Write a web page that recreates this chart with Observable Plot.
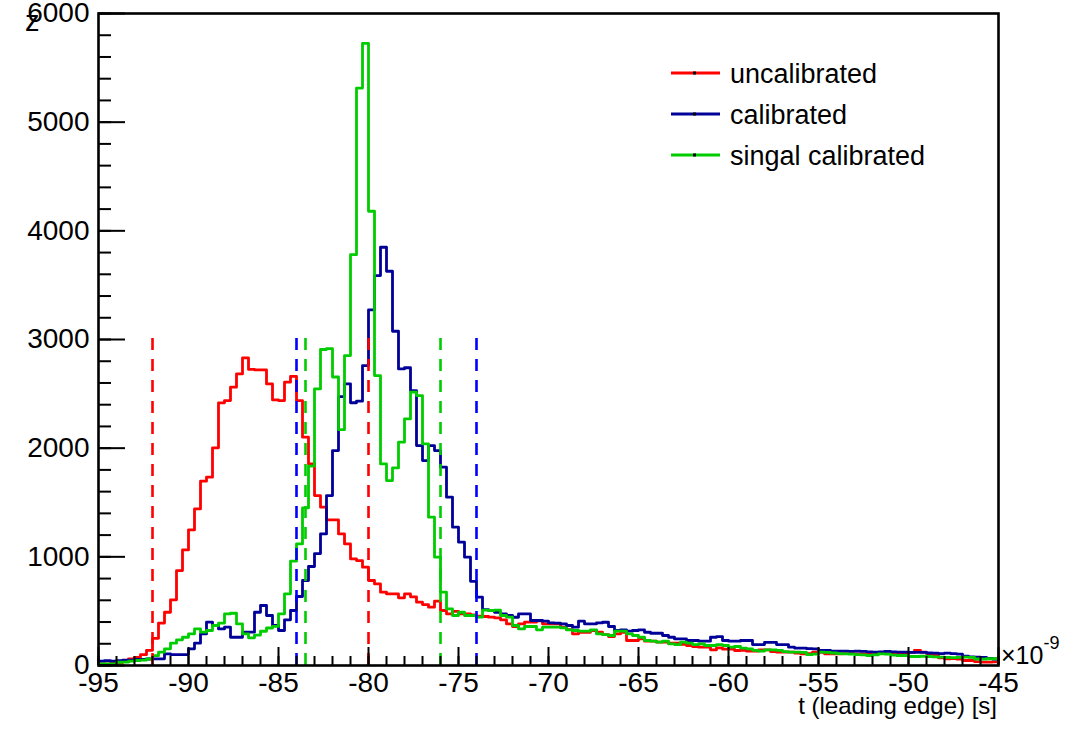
<!DOCTYPE html>
<html><head><meta charset="utf-8">
<script src="https://cdn.jsdelivr.net/npm/d3@7"></script>
<script src="https://cdn.jsdelivr.net/npm/@observablehq/plot@0.6"></script>
<style>body{margin:0;background:#fff;} svg{display:block}</style>
</head><body><div id="chart"></div>
<script>
// Histogram binning: 150 bins from -95 to -45 (x 1e-9 s)
const xMin = -95, xMax = -45, nBins = 150;

const uncalibrated = [
  15,15,20,25,35,60,75,100,140,250,
  390,490,604,874,1064,1248,1441,1696,1733,2003,
  2417,2438,2561,2683,2830,2725,2720,2720,2591,2444,
  2438,2607,2660,2438,2101,1855,1564,1457,1340,1340,
  1211,1119,981,966,905,782,751,675,659,659,
  623,659,632,583,561,537,592,506,475,499,
  475,475,465,455,451,445,438,420,383,359,
  383,399,399,410,383,383,383,353,330,291,
  306,306,322,306,285,267,291,306,230,230,
  245,224,224,215,215,205,205,195,184,175,
  169,169,144,163,150,150,138,140,132,132,
  144,144,128,123,123,123,115,107,110,123,
  120,107,107,107,110,110,107,107,105,115,
  120,118,115,107,105,120,138,123,110,101,
  70,61,63,60,46,46,35,31,31,33
];
const calibrated = [
  40,45,40,45,50,50,55,55,60,61,
  61,107,101,101,101,153,205,291,399,368,
  337,353,260,260,307,307,490,552,460,368,
  322,420,506,635,782,911,1030,1211,1564,1978,
  2475,2592,2418,2432,2760,3272,3588,3849,3628,3076,
  2729,2740,2530,2024,1886,2024,1978,1825,1549,1273,
  1135,997,775,629,515,506,490,475,460,444,
  475,475,414,414,408,392,390,383,368,353,
  408,383,383,392,398,359,322,328,316,322,
  328,306,297,297,276,260,245,245,230,230,
  224,224,260,266,230,224,224,230,230,193,
  193,212,212,193,193,169,160,160,155,153,
  140,138,132,132,132,130,132,130,125,123,
  125,130,125,123,123,120,120,120,115,113,
  110,113,110,105,85,80,77,75,65,60
];
const singalCalibrated = [
  15,15,15,30,31,40,46,50,60,90,
  123,153,205,236,260,291,337,307,322,368,
  390,475,481,383,291,255,280,315,345,360,
  475,660,960,1119,1450,1835,2545,2908,2916,2655,
  2170,2852,3781,5314,5725,4180,2668,1855,1702,1818,
  2055,2269,2515,2484,2039,1365,997,675,521,460,
  490,460,460,445,510,506,510,460,445,368,
  337,359,359,328,353,353,353,347,328,322,
  316,316,328,291,285,276,316,316,291,276,
  260,230,224,215,224,199,193,215,205,193,
  199,184,184,193,184,169,175,160,153,140,
  132,144,144,140,128,123,123,120,101,105,
  123,120,115,110,107,105,101,98,92,98,
  107,105,95,92,92,83,83,85,83,80,
  77,75,72,75,77,75,60,58,62,62
];

const seriesNames = ["uncalibrated", "calibrated", "singal calibrated"];
const seriesColors = ["#ff0000", "#000099", "#00cc00"];

// dashed vertical markers
const dashRed = [-92, -80];
const dashBlue = [-84, -74];
const dashGreen = [-83.5, -76];
const dashColors = ["#ff0000", "#0000ff", "#00cc00"];
const dashTop = 3080;

// axis ticks
const xMajor = [-95, -90, -85, -80, -75, -70, -65, -60, -55, -50, -45];
const xMinor = d3.range(-95, -44, 1);
const yMajor = [0, 1000, 2000, 3000, 4000, 5000, 6000];
const yMinor = d3.range(0, 6001, 200);

const xTitle = "t (leading edge) [s]";
const yTitle = "z";

const W = 1078, H = 729;
const mL = 98, mR = 80, mT = 13, mB = 64;
const plotW = W - mL - mR, plotH = H - mT - mB;
const FONT = "'Liberation Sans', Arial, Helvetica, sans-serif";

const binW = (xMax - xMin) / nBins;
function rows(vals) {
  const r = vals.map((v, i) => ({x: xMin + i * binW, y: v}));
  r.push({x: xMax, y: vals[vals.length - 1]});
  return r;
}
const seriesData = [uncalibrated, calibrated, singalCalibrated].map(rows);

const marks = [];
seriesData.forEach((d, i) => {
  marks.push(Plot.line(d, {x: "x", y: "y", curve: "step-after", stroke: seriesColors[i], strokeWidth: 2.8}));
});
[dashRed, dashBlue, dashGreen].forEach((arr, i) => {
  marks.push(Plot.ruleX(arr, {x: d => d, y1: 0, y2: dashTop, stroke: dashColors[i], strokeWidth: 2.6, strokeDasharray: "12,9"}));
});
marks.push(
  Plot.tickX(xMinor, {x: d => d, insetTop: plotH - 9, stroke: "black", strokeWidth: 2}),
  Plot.tickX(xMajor, {x: d => d, insetTop: plotH - 18, stroke: "black", strokeWidth: 2}),
  Plot.tickY(yMinor, {y: d => d, insetRight: plotW - 13, stroke: "black", strokeWidth: 2}),
  Plot.tickY(yMajor, {y: d => d, insetRight: plotW - 27, stroke: "black", strokeWidth: 2}),
  Plot.axisX(xMajor, {tickSize: 0, tickPadding: 7, fontSize: 28, tickFormat: d => String(d), label: null}),
  Plot.axisY(yMajor, {tickSize: 0, tickPadding: 9, fontSize: 28, tickFormat: d => String(d), label: null}),
  Plot.frame({stroke: "black", strokeWidth: 2.6})
);

const svgEl = Plot.plot({
  width: W, height: H,
  marginLeft: mL, marginRight: mR, marginTop: mT, marginBottom: mB,
  x: {domain: [xMin, xMax], axis: null},
  y: {domain: [0, 6000], axis: null},
  style: {fontFamily: FONT, background: "white", color: "black", overflow: "visible"},
  marks
});
document.getElementById("chart").appendChild(svgEl);

const svg = d3.select(svgEl);
const g = svg.append("g").attr("font-family", FONT).attr("fill", "black").attr("text-anchor", "start");

// legend
seriesNames.forEach((name, i) => {
  const cy = 73 + i * 41;
  g.append("line").attr("x1", 671).attr("x2", 720).attr("y1", cy).attr("y2", cy)
    .attr("stroke", seriesColors[i]).attr("stroke-width", 3);
  g.append("rect").attr("x", 693).attr("y", cy - 1.5).attr("width", 3).attr("height", 3).attr("fill", "black");
  g.append("text").attr("x", 730).attr("y", cy + 10).attr("font-size", 27).attr("text-anchor", "start").text(name);
});

// axis titles and exponent
g.append("text").attr("x", W - mR - 1).attr("y", 714).attr("text-anchor", "end").attr("font-size", 24).text(xTitle);
g.append("text").attr("x", 25).attr("y", 31).attr("font-size", 29).attr("text-anchor", "start").text(yTitle);
const ex = g.append("text").attr("x", 1001).attr("y", 664).attr("font-size", 25).attr("text-anchor", "start");
ex.append("tspan").text("\u00d710");
ex.append("tspan").attr("dy", -15).attr("font-size", 18).text("-9");
</script>
</body></html>
